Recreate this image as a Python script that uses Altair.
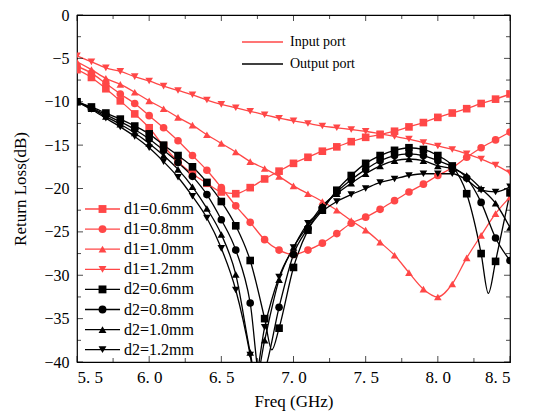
import altair as alt
import pandas as pd
import numpy as np

# ---------------- data ----------------
freq = [round(5.5 + 0.1 * i, 1) for i in range(31)]

d1_06 = [-6.3, -7.2, -8.5, -9.9, -11.4, -13.0, -15.1, -16.9, -18.3, -19.4, -20.4,
         -20.6, -19.9, -18.9, -18.0, -17.1, -16.4, -15.7, -15.2, -14.6, -14.1,
         -13.8, -13.4, -12.9, -12.4, -11.8, -11.3, -10.8, -10.2, -9.7, -9.1]
d1_08 = [-5.9, -6.7, -7.9, -9.1, -10.2, -11.6, -13.0, -14.5, -16.2, -17.9, -19.9,
         -22.0, -23.9, -25.9, -27.1, -27.6, -27.1, -26.3, -25.2, -24.0, -23.3,
         -22.4, -21.4, -20.4, -19.5, -18.5, -17.6, -16.4, -15.3, -14.4, -13.5]
d1_10 = [-5.4, -6.3, -7.3, -8.0, -8.9, -9.9, -10.8, -11.8, -12.7, -13.8, -14.8,
         -15.8, -16.9, -17.7, -18.6, -19.7, -20.6, -21.5, -22.5, -23.7, -24.8,
         -26.2, -27.7, -29.7, -31.6, -32.5, -31.0, -28.0, -25.4, -22.9, -21.0]
d1_12 = [-4.7, -5.4, -6.1, -6.5, -7.1, -7.6, -8.2, -8.7, -9.2, -9.8, -10.3,
         -10.7, -11.1, -11.5, -11.9, -12.2, -12.5, -12.8, -13.0, -13.2, -13.4,
         -13.7, -14.0, -14.3, -14.7, -15.1, -15.5, -16.0, -16.6, -17.3, -18.2]

d2_06 = [-10.0, -10.6, -11.3, -12.0, -12.8, -13.7, -15.0, -16.2, -17.5, -19.3, -21.5,
         -24.3, -28.3, -35.0, -36.1, -29.1, -24.8, -22.5, -20.2, -18.5, -17.1,
         -16.2, -15.6, -15.3, -15.5, -16.2, -17.4, -20.6, -27.5, -28.4, -20.5]
d2_08 = [-10.0, -10.7, -11.5, -12.3, -13.2, -14.3, -15.6, -17.0, -18.6, -20.7, -23.6,
         -27.1, -33.2, -41.0, -33.7, -27.6, -24.6, -22.2, -20.4, -19.0, -17.8,
         -16.8, -16.2, -16.0, -16.2, -16.8, -17.5, -18.8, -21.6, -25.7, -28.3]
d2_10 = [-10.0, -10.8, -11.7, -12.6, -13.6, -14.8, -16.2, -17.8, -19.8, -22.3, -25.3,
         -29.9, -38.9, -37.5, -30.5, -26.8, -24.3, -22.0, -20.6, -19.4, -18.3,
         -17.4, -16.8, -16.6, -16.8, -17.4, -17.7, -18.5, -20.0, -21.7, -24.5]
d2_12 = [-10.0, -10.9, -11.9, -12.9, -14.0, -15.3, -16.9, -18.7, -20.9, -23.4, -26.9,
         -31.7, -39.2, -36.0, -30.2, -26.8, -24.0, -22.6, -21.5, -20.7, -20.0,
         -19.3, -18.9, -18.5, -18.3, -18.3, -18.3, -19.0, -20.2, -20.4, -19.8]

# extra line-only points read at the sharp notches (freq, value)
notch_06 = [(6.85, -38.6), (8.35, -32.1)]
notch_08 = [(6.77, -42.0)]
notch_10 = [(6.74, -42.0)]
notch_12 = [(6.73, -42.0)]

series_names = ["d1=0.6mm", "d1=0.8mm", "d1=1.0mm", "d1=1.2mm",
                "d2=0.6mm", "d2=0.8mm", "d2=1.0mm", "d2=1.2mm"]
series_vals = [d1_06, d1_08, d1_10, d1_12, d2_06, d2_08, d2_10, d2_12]
series_notch = [[], [], [], [], notch_06, notch_08, notch_10, notch_12]
RED = "#ff4747"
BLK = "#000000"
series_colors = [RED] * 4 + [BLK] * 4
series_shapes = ["square", "circle", "triangle-up", "triangle-down"] * 2

port_labels = ["Input port", "Output port"]
port_colors = [RED, BLK]

x_major = [5.5, 6.0, 6.5, 7.0, 7.5, 8.0, 8.5]
x_minor = [5.75, 6.25, 6.75, 7.25, 7.75, 8.25]
y_major = [0, -5, -10, -15, -20, -25, -30, -35, -40]
y_minor = [-2.5, -7.5, -12.5, -17.5, -22.5, -27.5, -32.5, -37.5]

W, H = 433, 347
FONT = "Liberation Serif"

# ---------------- tables ----------------
pts_rows, line_rows = [], []
for n, v, nt in zip(series_names, series_vals, series_notch):
    for f, y in zip(freq, v):
        pts_rows.append({"series": n, "f": f, "rl": y})
        line_rows.append({"series": n, "f": f, "rl": y})
    for f, y in nt:
        line_rows.append({"series": n, "f": f, "rl": y})
pts = pd.DataFrame(pts_rows)
lines = pd.DataFrame(line_rows).sort_values(["series", "f"])

xs = alt.Scale(domain=[5.5, 8.5], nice=False, zero=False)
ys = alt.Scale(domain=[-40, 0], nice=False, zero=False)
cs = alt.Scale(domain=series_names, range=series_colors)
ss = alt.Scale(domain=series_names, range=series_shapes)

X = alt.X("f:Q", scale=xs,
          axis=alt.Axis(values=x_major, ticks=False, grid=False, domain=False,
                        labelExpr="replace(format(datum.value, '.1f'), '.', '. ')",
                        labelFont=FONT, labelFontSize=17, labelColor="black",
                        labelPadding=7, title="Freq (GHz)", titleFont=FONT,
                        titleFontSize=17, titleFontWeight="normal", titlePadding=8,
                        titleColor="black"))
Y = alt.Y("rl:Q", scale=ys,
          axis=alt.Axis(values=y_major, ticks=False, grid=False, domain=False,
                        format="d", labelFont=FONT, labelFontSize=16, labelColor="black",
                        labelPadding=8, title="Return Loss(dB)", titleFont=FONT,
                        titleFontSize=17, titleFontWeight="normal", titlePadding=14,
                        titleColor="black"))

line_layer = alt.Chart(lines).mark_line(strokeWidth=1.3, clip=True, interpolate="monotone").encode(
    x=X, y=Y, color=alt.Color("series:N", scale=cs, legend=None), detail="series:N")
point_layer = alt.Chart(pts).mark_point(filled=True, size=58, opacity=1, clip=True).encode(
    x=alt.X("f:Q", scale=xs), y=alt.Y("rl:Q", scale=ys),
    color=alt.Color("series:N", scale=cs, legend=None),
    shape=alt.Shape("series:N", scale=ss, legend=None))

# inward ticks
def xticks(vals, ln):
    d = pd.DataFrame({"f": vals})
    b = alt.Chart(d).mark_tick(orient="vertical", size=ln, thickness=1, color="black").encode(
        x=alt.X("f:Q", scale=xs), y=alt.value(H - ln / 2))
    t = alt.Chart(d).mark_tick(orient="vertical", size=ln, thickness=1, color="black").encode(
        x=alt.X("f:Q", scale=xs), y=alt.value(ln / 2))
    return b + t

def yticks(vals, ln):
    d = pd.DataFrame({"rl": vals})
    l = alt.Chart(d).mark_tick(orient="horizontal", size=ln, thickness=1, color="black").encode(
        y=alt.Y("rl:Q", scale=ys), x=alt.value(ln / 2))
    r = alt.Chart(d).mark_tick(orient="horizontal", size=ln, thickness=1, color="black").encode(
        y=alt.Y("rl:Q", scale=ys), x=alt.value(W - ln / 2))
    return l + r

ticks = xticks(x_major, 6) + xticks(x_minor, 4) + yticks(y_major, 6) + yticks(y_minor, 4)

# legend: series (bottom-left)
leg = pd.DataFrame({
    "label": series_names,
    "color": series_colors,
    "shape": series_shapes,
    "ypx": [194 + 20.1 * i for i in range(8)],
})
leg_line = alt.Chart(leg).mark_rule(strokeWidth=1.3).encode(
    x=alt.value(8), x2=alt.value(43), y=alt.Y("ypx:Q", scale=None),
    color=alt.Color("color:N", scale=None))
leg_pt = alt.Chart(leg).mark_point(filled=True, size=62, opacity=1).encode(
    x=alt.value(25.5), y=alt.Y("ypx:Q", scale=None),
    color=alt.Color("color:N", scale=None), shape=alt.Shape("shape:N", scale=None))
leg_txt = alt.Chart(leg).mark_text(align="left", baseline="middle", font=FONT, fontSize=16,
                                   color="black").encode(
    x=alt.value(47), y=alt.Y("ypx:Q", scale=None), text="label:N")

# legend: ports (top)
pl = pd.DataFrame({"label": port_labels, "color": port_colors, "ypx": [27, 49]})
pl_line = alt.Chart(pl).mark_rule(strokeWidth=1.3).encode(
    x=alt.value(165), x2=alt.value(206), y=alt.Y("ypx:Q", scale=None),
    color=alt.Color("color:N", scale=None))
pl_txt = alt.Chart(pl).mark_text(align="left", baseline="middle", font=FONT, fontSize=14,
                                 color="black").encode(
    x=alt.value(213), y=alt.Y("ypx:Q", scale=None), text="label:N")

chart = alt.layer(line_layer, point_layer, ticks, leg_line, leg_pt, leg_txt, pl_line, pl_txt).properties(
    width=W, height=H, autosize="none",
    padding={"left": 69, "top": 7, "right": 15, "bottom": 54},
    background="white",
).configure_view(stroke="black", strokeWidth=1.2).resolve_scale(color="independent", shape="independent")

chart.save("out.html", embed_options={"renderer": "svg", "actions": False})
